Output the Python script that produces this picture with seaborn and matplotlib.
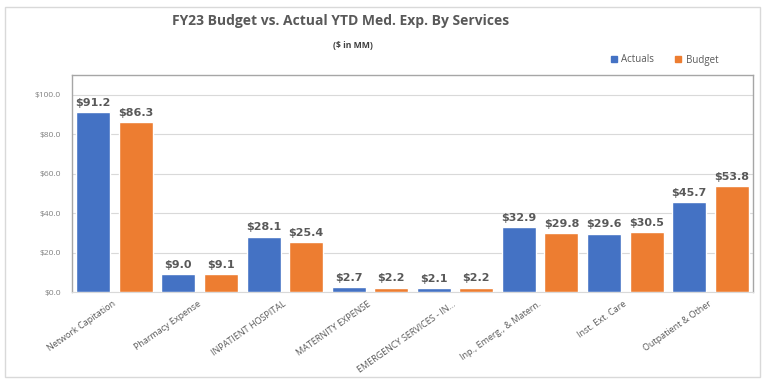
import pandas as pd
import seaborn as sns
import matplotlib
matplotlib.use("Agg")
import matplotlib.pyplot as plt
from matplotlib.patches import Rectangle
from matplotlib.lines import Line2D

# Spending by service line, $ in millions
categories = [
    "Network Capitation",
    "Pharmacy Expense",
    "INPATIENT HOSPITAL",
    "MATERNITY EXPENSE",
    "EMERGENCY SERVICES - IN...",
    "Inp., Emerg., & Matern.",
    "Inst. Ext. Care",
    "Outpatient & Other",
]
actuals = [91.2, 9.0, 28.1, 2.7, 2.1, 32.9, 29.6, 45.7]
budget = [86.3, 9.1, 25.4, 2.2, 2.2, 29.8, 30.5, 53.8]
series_names = ["Actuals", "Budget"]
y_ticks = [0, 20, 40, 60, 80, 100]

BLUE = "#4472C4"
ORANGE = "#ED7D31"
TEXT = "#595959"

df = pd.DataFrame({
    "Service": categories * 2,
    "Amount": actuals + budget,
    "Series": [series_names[0]] * len(categories) + [series_names[1]] * len(categories),
})

sns.set_theme(style="white")
plt.rcParams["font.family"] = ["Open Sans", "DejaVu Sans"]

W, H = 765, 380
fig = plt.figure(figsize=(W / 100, H / 100), dpi=100)
fig.patch.set_facecolor("white")

# plot area in pixel coordinates
left, right, top, bottom = 72, 753, 75, 292
ax = fig.add_axes([left / W, 1 - bottom / H, (right - left) / W, (bottom - top) / H])

sns.barplot(
    data=df, x="Service", y="Amount", hue="Series",
    palette=[BLUE, ORANGE], width=1.0, gap=0.2,
    saturation=1.0, legend=False, ax=ax, zorder=3,
)

ax.set_xlim(-0.5, len(categories) - 0.5)
ax.set_ylim(0, 110)
ax.set_yticks(y_ticks)
ax.set_yticklabels([f"${v:.1f}" for v in y_ticks], fontsize=6, color="#7f7f7f")
ax.yaxis.grid(True, color="#d9d9d9", lw=0.8, zorder=0)
ax.set_axisbelow(True)
ax.tick_params(axis="y", length=0, pad=8)
ax.tick_params(axis="x", length=0, pad=8)
ax.set_xlabel("")
ax.set_ylabel("")

ax.set_xticks(range(len(categories)))
ax.set_xticklabels(categories, rotation=35, ha="right", va="center",
                   rotation_mode="anchor", fontsize=6.5, color=TEXT)

for side in ("left", "top", "right"):
    ax.spines[side].set_visible(True)
    ax.spines[side].set_color("#a6a6a6")
    ax.spines[side].set_linewidth(1.0)
ax.spines["bottom"].set_color("#d9d9d9")
ax.spines["bottom"].set_linewidth(0.8)

# value labels above each bar
for container, vals in zip(ax.containers, [actuals, budget]):
    ax.bar_label(container, labels=[f"${v:.1f}" for v in vals], padding=3,
                 fontsize=8, fontweight="bold", color=TEXT,
                 family="DejaVu Sans")

# titles
fig.text(341 / W, 1 - 21 / H, "FY23 Budget vs. Actual YTD Med. Exp. By Services",
         ha="center", va="center", fontsize=10, fontweight="bold", color=TEXT)
fig.text(353 / W, 1 - 46 / H, "($ in MM)", ha="center", va="center",
         fontsize=6.2, fontweight="bold", color="#404040")

# legend
handles = [Line2D([], [], marker="s", ls="", color=c, markersize=4)
           for c in (BLUE, ORANGE)]
fig.legend(handles, series_names, loc="center", bbox_to_anchor=(664 / W, 1 - 60 / H),
           ncol=2, frameon=False, fontsize=7, labelcolor=TEXT,
           handletextpad=0.4, columnspacing=2.0, handlelength=0.8)

# outer chart border
fig.add_artist(Rectangle((5 / W, 3 / H), 755 / W, 370 / H, transform=fig.transFigure,
                         fill=False, edgecolor="#d9d9d9", lw=1.0))

fig.savefig("out.png", dpi=100, facecolor="white")
